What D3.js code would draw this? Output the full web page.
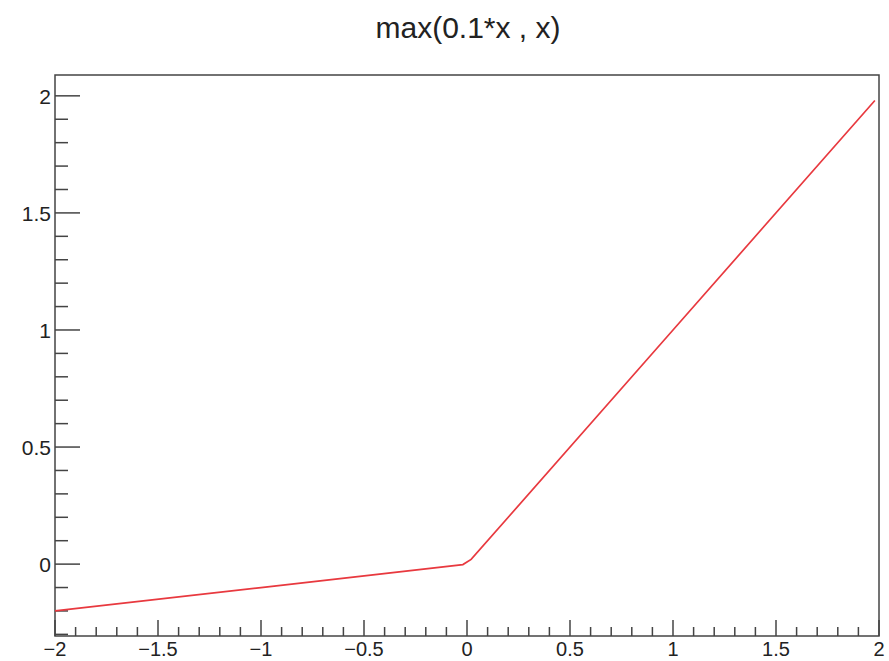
<!DOCTYPE html>
<html lang="en">
<head>
<meta charset="UTF-8">
<title>max(0.1*x , x)</title>
<script src="https://d3js.org/d3.v7.min.js"></script>
<style>
  body { margin: 0; background: #fff; }
  text { font-family: "Liberation Sans", Arial, sans-serif; fill: #222; }
</style>
</head>
<body>
<div id="chart"></div>
<script>
// data: the function max(0.1*x, x) as drawn, its corner points
var xs = [-2, -1, -0.02, 0.02, 1, 1.98]
var ys = [-0.2, -0.1, -0.002, 0.02, 1, 1.98]
var xTickLabels = [-2, -1.5, -1, -0.5, 0, 0.5, 1, 1.5, 2]
var yTickLabels = [0, 0.5, 1, 1.5, 2]
var title = "max(0.1*x , x)"

var width = 889, height = 661
var frameLeft = 55, frameRight = 879, frameTop = 75, frameBottom = 636

var svg = d3.select("#chart").append("svg")
    .attr("width", width)
    .attr("height", height)

var x = d3.scaleLinear().domain([-2, 2]).range([frameLeft, frameRight])
var y = d3.scaleLinear().domain([-0.307, 2.089]).range([frameBottom, frameTop])

function isMajor(d) { return Math.abs(d * 2 - Math.round(d * 2)) < 1e-6 }

// frame
svg.append("rect")
    .attr("x", frameLeft).attr("y", frameTop)
    .attr("width", frameRight - frameLeft).attr("height", frameBottom - frameTop)
    .attr("fill", "none")
    .attr("stroke", "#444")
    .attr("stroke-width", 1.5)

// x axis ticks
var xMinor = d3.range(-20, 21).map(function(d) { return d / 10 })
svg.append("g").selectAll("line")
    .data(xMinor)
    .enter().append("line")
    .attr("x1", function(d) { return x(d) })
    .attr("x2", function(d) { return x(d) })
    .attr("y1", frameBottom)
    .attr("y2", function(d) { return isMajor(d) ? frameBottom - 16 : frameBottom - 9 })
    .attr("stroke", "#444")
    .attr("stroke-width", 1.5)

svg.append("g").selectAll("text")
    .data(xTickLabels)
    .enter().append("text")
    .attr("x", function(d) { return x(d) })
    .attr("y", 656)
    .attr("text-anchor", "middle")
    .style("font-size", "20px")
    .text(function(d) { return d < 0 ? "\u2212" + Math.abs(d) : d })

// y axis ticks
var yMinor = d3.range(-3, 21).map(function(d) { return d / 10 })
svg.append("g").selectAll("line")
    .data(yMinor)
    .enter().append("line")
    .attr("x1", frameLeft)
    .attr("x2", function(d) { return isMajor(d) ? frameLeft + 25 : frameLeft + 13 })
    .attr("y1", function(d) { return y(d) })
    .attr("y2", function(d) { return y(d) })
    .attr("stroke", "#444")
    .attr("stroke-width", 1.5)

svg.append("g").selectAll("text")
    .data(yTickLabels)
    .enter().append("text")
    .attr("x", 51)
    .attr("y", function(d) { return y(d) + 8 })
    .attr("text-anchor", "end")
    .style("font-size", "21px")
    .text(function(d) { return d })

// curve
var line = d3.line()
    .x(function(d) { return x(d[0]) })
    .y(function(d) { return y(d[1]) })

svg.append("path")
    .datum(d3.zip(xs, ys))
    .attr("d", line)
    .attr("fill", "none")
    .attr("stroke", "#e8393f")
    .attr("stroke-width", 1.7)

// title
svg.append("text")
    .attr("x", 468)
    .attr("y", 38)
    .attr("text-anchor", "middle")
    .style("font-size", "30px")
    .text(title)
</script>
</body>
</html>
